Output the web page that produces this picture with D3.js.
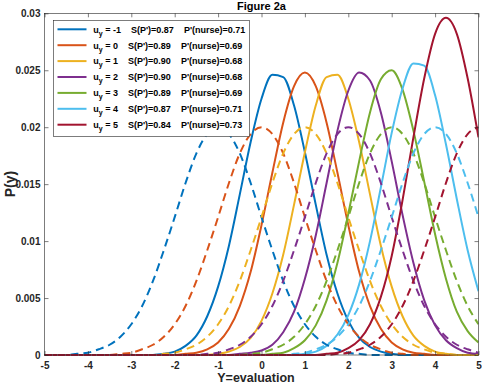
<!DOCTYPE html>
<html>
<head>
<meta charset="utf-8">
<script src="https://cdn.jsdelivr.net/npm/d3@7/dist/d3.min.js"></script>
<style>
  body { margin: 0; background: #fff; }
  svg { display: block; font-family: "Liberation Sans", Arial, sans-serif; }
</style>
</head>
<body>
<div id="chart"></div>
<script>
// x grid the curves were read on (Y = evaluation)
var xGrid = [-5, -4.75, -4.5, -4.25, -4, -3.75, -3.5, -3.25, -3, -2.75,
  -2.5, -2.25, -2, -1.75, -1.5, -1.25, -1, -0.75, -0.5, -0.25,
  0, 0.25, 0.5, 0.75, 1, 1.25, 1.5, 1.75, 2, 2.25,
  2.5, 2.75, 3, 3.25, 3.5, 3.75, 4, 4.25, 4.5, 4.75, 5];

// solid curves, P(y)
var solidUm1 = [0, 0, 0, 0, 0, 0, 0, 0, 0, 0, 0,
  0.0001, 0.0003, 0.0008, 0.0017, 0.0034, 0.0060, 0.0096, 0.0141, 0.0187, 0.0225, 0.0246,
  0.0244, 0.0219, 0.0178, 0.0132, 0.0088, 0.0054, 0.0030, 0.0015, 0.0007, 0.0003, 0.0001,
  0, 0, 0, 0, 0, 0, 0, 0];
var solidU0 = [0, 0, 0, 0, 0, 0, 0, 0, 0, 0, 0, 0, 0,
  0.0001, 0.0002, 0.0005, 0.0011, 0.0023, 0.0043, 0.0073, 0.0114, 0.0160, 0.0204, 0.0236,
  0.0248, 0.0236, 0.0204, 0.0160, 0.0114, 0.0073, 0.0043, 0.0023, 0.0011, 0.0005, 0.0002, 0.0001,
  0, 0, 0, 0, 0];
var solidU1 = [0, 0, 0, 0, 0, 0, 0, 0, 0, 0, 0, 0, 0, 0, 0, 0,
  0.0001, 0.0003, 0.0007, 0.0015, 0.0030, 0.0054, 0.0088, 0.0132, 0.0178, 0.0219, 0.0244,
  0.0246, 0.0225, 0.0187, 0.0141, 0.0096, 0.0060, 0.0034, 0.0017, 0.0008, 0.0003, 0.0001,
  0, 0, 0];
var solidU2 = [0, 0, 0, 0, 0, 0, 0, 0, 0, 0, 0, 0, 0, 0, 0, 0, 0, 0,
  0.0001, 0.0002, 0.0004, 0.0009, 0.0020, 0.0038, 0.0067, 0.0105, 0.0151, 0.0197, 0.0232,
  0.0248, 0.0241, 0.0213, 0.0170, 0.0123, 0.0081, 0.0048, 0.0026, 0.0013, 0.0006, 0.0002, 0.0001];
var solidU3 = [0, 0, 0, 0, 0, 0, 0, 0, 0, 0, 0, 0, 0, 0, 0, 0, 0, 0, 0, 0, 0,
  0.0001, 0.0002, 0.0006, 0.0013, 0.0026, 0.0048, 0.0081, 0.0124, 0.0170, 0.0213, 0.0242,
  0.0250, 0.0233, 0.0197, 0.0152, 0.0106, 0.0067, 0.0038, 0.0021, 0.0011];
var solidU4 = [0, 0, 0, 0, 0, 0, 0, 0, 0, 0, 0, 0, 0, 0, 0, 0, 0, 0, 0, 0, 0, 0, 0, 0,
  0.0001, 0.0003, 0.0008, 0.0018, 0.0035, 0.0062, 0.0100, 0.0147, 0.0195, 0.0234, 0.0256,
  0.0254, 0.0228, 0.0185, 0.0137, 0.0092, 0.0056];
var solidU5 = [0, 0, 0, 0, 0, 0, 0, 0, 0, 0, 0, 0, 0, 0, 0, 0, 0, 0, 0, 0, 0, 0, 0, 0, 0, 0,
  0.0001, 0.0002, 0.0006, 0.0013, 0.0027, 0.0051, 0.0087, 0.0136, 0.0191, 0.0243, 0.0282,
  0.0296, 0.0282, 0.0243, 0.0191];

// dashed curves, P(y)
var dashedUm1 = [0, 0, 0,
  0.0001, 0.0002, 0.0005, 0.0009, 0.0016, 0.0027, 0.0043, 0.0065, 0.0092, 0.0121, 0.0151, 0.0177, 0.0194,
  0.0200, 0.0194, 0.0177, 0.0151, 0.0121, 0.0092, 0.0065, 0.0043, 0.0027, 0.0016, 0.0009, 0.0005, 0.0002, 0.0001,
  0, 0, 0, 0, 0, 0, 0, 0, 0, 0, 0];
var dashedU0 = [0, 0, 0, 0, 0, 0, 0,
  0.0001, 0.0002, 0.0005, 0.0009, 0.0016, 0.0027, 0.0043, 0.0065, 0.0092, 0.0121, 0.0151, 0.0177, 0.0194,
  0.0200, 0.0194, 0.0177, 0.0151, 0.0121, 0.0092, 0.0065, 0.0043, 0.0027, 0.0016, 0.0009, 0.0005, 0.0002, 0.0001,
  0, 0, 0, 0, 0, 0, 0];
var dashedU1 = [0, 0, 0, 0, 0, 0, 0, 0, 0, 0, 0,
  0.0001, 0.0002, 0.0005, 0.0009, 0.0016, 0.0027, 0.0043, 0.0065, 0.0092, 0.0121, 0.0151, 0.0177, 0.0194,
  0.0200, 0.0194, 0.0177, 0.0151, 0.0121, 0.0092, 0.0065, 0.0043, 0.0027, 0.0016, 0.0009, 0.0005, 0.0002, 0.0001,
  0, 0, 0];
var dashedU2 = [0, 0, 0, 0, 0, 0, 0, 0, 0, 0, 0, 0, 0, 0, 0,
  0.0001, 0.0002, 0.0005, 0.0009, 0.0016, 0.0027, 0.0043, 0.0065, 0.0092, 0.0121, 0.0151, 0.0177, 0.0194,
  0.0200, 0.0194, 0.0177, 0.0151, 0.0121, 0.0092, 0.0065, 0.0043, 0.0027, 0.0016, 0.0009, 0.0005, 0.0002];
var dashedU3 = [0, 0, 0, 0, 0, 0, 0, 0, 0, 0, 0, 0, 0, 0, 0, 0, 0, 0, 0,
  0.0001, 0.0002, 0.0005, 0.0009, 0.0016, 0.0027, 0.0043, 0.0065, 0.0092, 0.0121, 0.0151, 0.0177, 0.0194,
  0.0200, 0.0194, 0.0177, 0.0151, 0.0121, 0.0092, 0.0065, 0.0043, 0.0027];
var dashedU4 = [0, 0, 0, 0, 0, 0, 0, 0, 0, 0, 0, 0, 0, 0, 0, 0, 0, 0, 0, 0, 0, 0, 0,
  0.0001, 0.0002, 0.0005, 0.0009, 0.0016, 0.0027, 0.0043, 0.0065, 0.0092, 0.0121, 0.0151, 0.0177, 0.0194,
  0.0200, 0.0194, 0.0177, 0.0151, 0.0121];
var dashedU5 = [0, 0, 0, 0, 0, 0, 0, 0, 0, 0, 0, 0, 0, 0, 0, 0, 0, 0, 0, 0, 0, 0, 0, 0, 0, 0, 0,
  0.0001, 0.0002, 0.0005, 0.0009, 0.0016, 0.0027, 0.0043, 0.0065, 0.0092, 0.0121, 0.0151, 0.0177, 0.0194,
  0.0200];

// legend entries
var uyValues = ['-1', '0', '1', '2', '3', '4', '5'];
var sValues = ['0.87', '0.89', '0.90', '0.90', '0.89', '0.87', '0.84'];
var nurseValues = ['0.71', '0.69', '0.68', '0.68', '0.69', '0.71', '0.73'];

var xTicks = [-5, -4, -3, -2, -1, 0, 1, 2, 3, 4, 5];
var yTicks = [0, 0.005, 0.01, 0.015, 0.02, 0.025, 0.03];
var yTickLabels = ['0', '0.005', '0.01', '0.015', '0.02', '0.025', '0.03'];

var solidSeries = [solidUm1, solidU0, solidU1, solidU2, solidU3, solidU4, solidU5];
var dashedSeries = [dashedUm1, dashedU0, dashedU1, dashedU2, dashedU3, dashedU4, dashedU5];
var colors = ['#0072BD', '#D95319', '#EDB120', '#7E2F8E', '#77AC30', '#4DBEEE', '#A2142F'];

var w = 482,
  h = 385,
  plotLeft = 44.5,
  plotRight = 478.5,
  plotTop = 13.3,
  plotBottom = 355,
  axisColor = '#262626';

var svg = d3.select('#chart')
  .append('svg')
  .attr('width', w)
  .attr('height', h);

svg.append('rect').attr('width', w).attr('height', h).attr('fill', '#fff');

var xscale = d3.scaleLinear().domain([-5, 5]).range([plotLeft, plotRight]);
var yscale = d3.scaleLinear().domain([0, 0.03]).range([plotBottom, plotTop]);

svg.append('defs').append('clipPath').attr('id', 'plotclip')
  .append('rect')
  .attr('x', plotLeft).attr('y', plotTop - 2)
  .attr('width', plotRight - plotLeft).attr('height', plotBottom - plotTop + 4);

var line = d3.line()
  .x(function(d) { return xscale(d[0]); })
  .y(function(d) { return yscale(d[1]); })
  .curve(d3.curveMonotoneX);

function toPoints(values) {
  return values.map(function(v, i) {
    return [xGrid[i], v];
  });
}

var plot = svg.append('g').attr('clip-path', 'url(#plotclip)');

// solid lines first (they are the legend entries), then dashed
solidSeries.forEach(function(values, i) {
  plot.append('path')
    .attr('d', line(toPoints(values)))
    .attr('fill', 'none')
    .attr('stroke', colors[i])
    .attr('stroke-width', 2);
});
dashedSeries.forEach(function(values, i) {
  plot.append('path')
    .attr('d', line(toPoints(values)))
    .attr('fill', 'none')
    .attr('stroke', colors[i])
    .attr('stroke-width', 2)
    .attr('stroke-dasharray', '8,5');
});

// axes box and ticks (ticks point inward, like matlab)
var xaxis = d3.axisBottom(xscale).tickValues(xTicks).tickSizeInner(-4).tickSizeOuter(0).tickPadding(6.5)
  .tickFormat(function(d) { return d; });
var xaxisTop = d3.axisTop(xscale).tickValues(xTicks).tickSizeInner(-4).tickSizeOuter(0).tickFormat('');
var yaxis = d3.axisLeft(yscale).tickValues(yTicks).tickSizeInner(-4).tickSizeOuter(0).tickPadding(4)
  .tickFormat(function(d, i) { return yTickLabels[i]; });
var yaxisRight = d3.axisRight(yscale).tickValues(yTicks).tickSizeInner(-4).tickSizeOuter(0).tickFormat('');

svg.append('g').attr('class', 'axis x').attr('transform', 'translate(0,' + plotBottom + ')').call(xaxis);
svg.append('g').attr('class', 'axis xtop').attr('transform', 'translate(0,' + plotTop + ')').call(xaxisTop);
svg.append('g').attr('class', 'axis y').attr('transform', 'translate(' + plotLeft + ',0)').call(yaxis);
svg.append('g').attr('class', 'axis yright').attr('transform', 'translate(' + plotRight + ',0)').call(yaxisRight);

svg.selectAll('.axis .domain').remove();
svg.selectAll('.axis line').attr('stroke', axisColor).attr('stroke-width', 0.6);
svg.selectAll('.axis text')
  .attr('fill', axisColor)
  .style('font-size', '10px')
  .style('font-weight', 'bold')
  .style('font-family', '"Liberation Sans", Arial, sans-serif');

svg.append('rect')
  .attr('x', plotLeft).attr('y', plotTop)
  .attr('width', plotRight - plotLeft).attr('height', plotBottom - plotTop)
  .attr('fill', 'none')
  .attr('stroke', axisColor)
  .attr('stroke-width', 0.6);

// title and axis labels
svg.append('text')
  .attr('x', (plotLeft + plotRight) / 2).attr('y', 9.5)
  .attr('text-anchor', 'middle')
  .style('font-size', '11px').style('font-weight', 'bold')
  .attr('fill', '#000')
  .text('Figure 2a');

svg.append('text')
  .attr('x', 256).attr('y', 382.2)
  .attr('text-anchor', 'middle')
  .style('font-size', '12.5px').style('font-weight', 'bold')
  .attr('fill', axisColor)
  .text('Y=evaluation');

svg.append('text')
  .attr('transform', 'translate(15,' + ((plotTop + plotBottom) / 2) + ') rotate(-90)')
  .attr('text-anchor', 'middle')
  .style('font-size', '14px').style('font-weight', 'bold')
  .attr('fill', axisColor)
  .text('P(y)');

// legend
var legend = svg.append('g').attr('class', 'legend');
legend.append('rect')
  .attr('x', 53.5).attr('y', 20.5)
  .attr('width', 196).attr('height', 116)
  .attr('fill', '#fff')
  .attr('stroke', axisColor)
  .attr('stroke-width', 0.6);

uyValues.forEach(function(u, i) {
  var ry = 29.3 + i * 15.9;
  legend.append('line')
    .attr('x1', 57.5).attr('x2', 86.5)
    .attr('y1', ry).attr('y2', ry)
    .attr('stroke', colors[i])
    .attr('stroke-width', 2);
  var t = legend.append('text')
    .attr('x', 93.3).attr('y', ry + 3.3)
    .attr('xml:space', 'preserve')
    .style('white-space', 'pre')
    .style('font-size', '9px').style('font-weight', 'bold')
    .attr('fill', '#000');
  t.append('tspan').text('u');
  t.append('tspan').attr('dy', 3).style('font-size', '7px').text('y');
  t.append('tspan').attr('dy', -3)
    .text(' = ' + u + '    S(P\')=' + sValues[i] + '    P\'(nurse)=' + nurseValues[i]);
});
</script>
</body>
</html>
